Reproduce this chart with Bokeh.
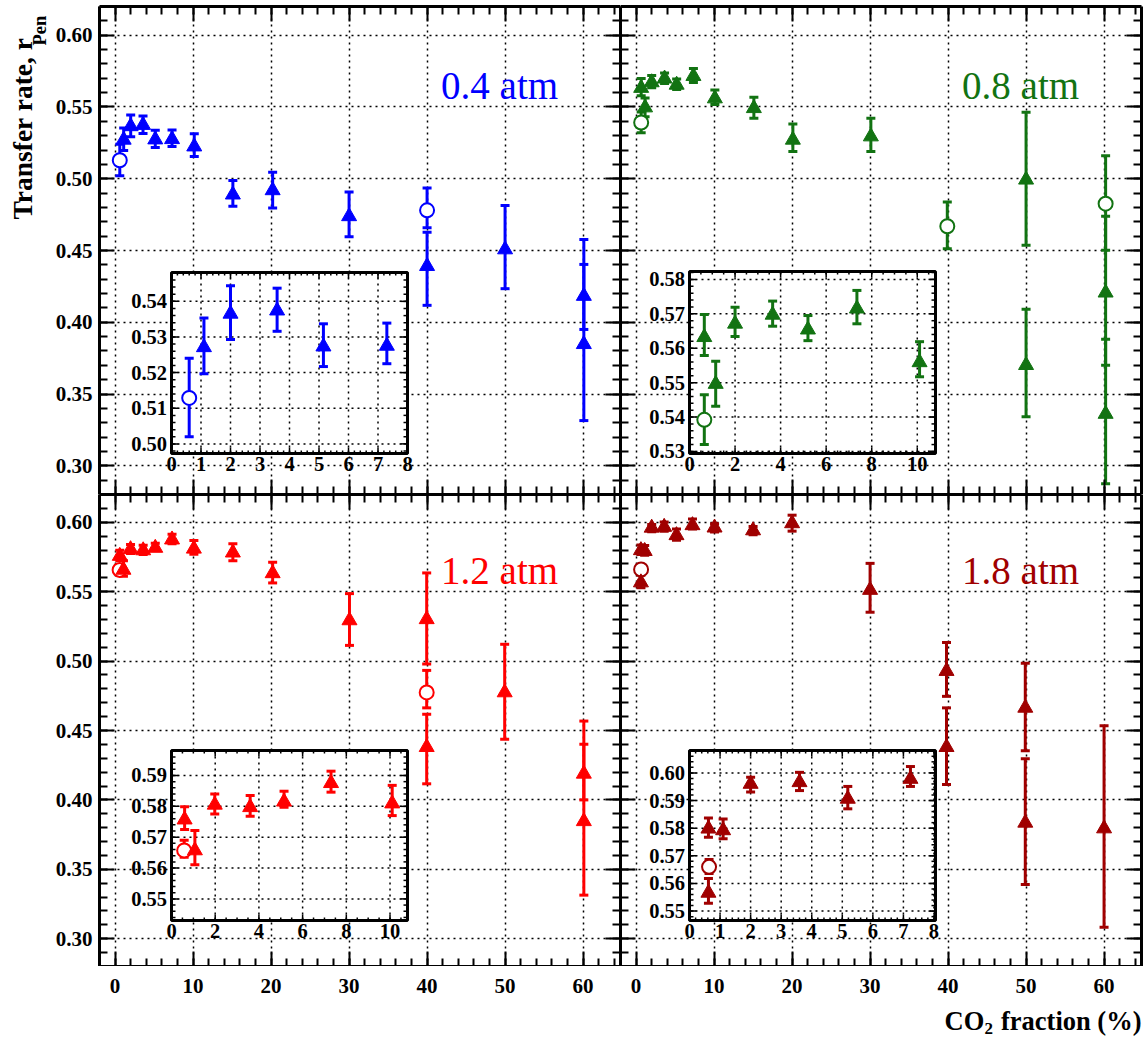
import math
import numpy as np
from bokeh.plotting import figure
from bokeh.layouts import gridplot
from bokeh.models import (Range1d, LinearAxis, SingleIntervalTicker, PrintfTickFormatter,
                          Label, Grid, GlobalInlineStyleSheet)
from bokeh.core.properties import value
from bokeh.embed import file_html
from bokeh.resources import INLINE

# ---------------- data ----------------
# 0.4 atm
p04_tri_x = [1.1, 2.0, 3.58, 5.15, 7.3, 10.15, 15.1, 20.2, 30.0, 40.0, 50.0, 60.1, 60.1]
p04_tri_y = [0.5271, 0.5365, 0.5374, 0.5273, 0.5275, 0.5224, 0.4889, 0.4919, 0.4738, 0.4391, 0.4507, 0.4183, 0.3847]
p04_tri_hi = [0.5353, 0.5444, 0.5437, 0.5337, 0.5339, 0.5313, 0.4988, 0.5046, 0.4907, 0.4627, 0.4813, 0.4576, 0.4403]
p04_tri_lo = [0.5197, 0.5293, 0.5316, 0.5217, 0.5225, 0.5155, 0.4808, 0.4796, 0.4595, 0.4118, 0.4234, 0.3950, 0.3315]
p04_cir_x = [0.6, 40.0]
p04_cir_y = [0.5129, 0.4780]
p04_cir_hi = [0.5240, 0.4935]
p04_cir_lo = [0.5020, 0.4658]

# 0.8 atm
p08_tri_x = [0.65, 1.15, 2.0, 3.65, 5.2, 7.35, 10.1, 15.1, 20.1, 30.1, 50.0, 50.0, 60.2, 60.2]
p08_tri_y = [0.5632, 0.5496, 0.5671, 0.5697, 0.5654, 0.5715, 0.5559, 0.5491, 0.5271, 0.5294, 0.4993, 0.3701, 0.4206, 0.3361]
p08_tri_hi = [0.5698, 0.5562, 0.5719, 0.5737, 0.5695, 0.5768, 0.5619, 0.5567, 0.5382, 0.5421, 0.5463, 0.4090, 0.4738, 0.3882]
p08_tri_lo = [0.5579, 0.5431, 0.5634, 0.5664, 0.5622, 0.5671, 0.5517, 0.5421, 0.5190, 0.5190, 0.4537, 0.3342, 0.3701, 0.2875]
p08_cir_x = [0.65, 39.9, 60.2]
p08_cir_y = [0.5392, 0.4669, 0.4826]
p08_cir_hi = [0.5465, 0.4838, 0.5160]
p08_cir_lo = [0.5320, 0.4512, 0.4502]

# 1.2 atm
p12_tri_x = [0.6, 1.07, 1.98, 3.6, 5.15, 7.3, 10.1, 15.1, 20.2, 30.05, 39.95, 39.95, 49.95, 60.1, 60.1]
p12_tri_y = [0.5757, 0.5657, 0.5805, 0.5797, 0.5815, 0.5875, 0.5809, 0.5781, 0.5632, 0.5293, 0.5301, 0.4380, 0.4774, 0.4188, 0.3846]
p12_tri_hi = [0.5799, 0.5722, 0.5840, 0.5835, 0.5849, 0.5914, 0.5868, 0.5846, 0.5712, 0.5486, 0.5635, 0.4617, 0.5121, 0.4568, 0.4401]
p12_tri_lo = [0.5725, 0.5611, 0.5775, 0.5768, 0.5797, 0.5846, 0.5770, 0.5722, 0.5563, 0.5113, 0.4979, 0.4116, 0.4437, 0.4000, 0.3314]
p12_cir_x = [0.58, 39.95]
p12_cir_y = [0.5657, 0.4774]
p12_cir_hi = [0.5690, 0.4933]
p12_cir_lo = [0.5635, 0.4663]

# 1.8 atm
p18_tri_x = [0.62, 0.62, 1.1, 2.0, 3.6, 5.18, 7.23, 10.06, 15.0, 20.0, 30.0, 39.8, 39.8, 49.9, 49.9, 60.0]
p18_tri_y = [0.5798, 0.5566, 0.5792, 0.5960, 0.5966, 0.5906, 0.5978, 0.5961, 0.5941, 0.5992, 0.5512, 0.4928, 0.4380, 0.4663, 0.3835, 0.3794]
p18_tri_hi = [0.5837, 0.5618, 0.5833, 0.5984, 0.6002, 0.5951, 0.6023, 0.5990, 0.5970, 0.6051, 0.5704, 0.5134, 0.4663, 0.4985, 0.4296, 0.4535]
p18_tri_lo = [0.5767, 0.5528, 0.5762, 0.5931, 0.5936, 0.5870, 0.5951, 0.5930, 0.5910, 0.5936, 0.5352, 0.4746, 0.4111, 0.4355, 0.3391, 0.3082]
p18_cir_x = [0.64]
p18_cir_y = [0.566]
p18_cir_hi = [0.5687]
p18_cir_lo = [0.5636]

panel_labels = ["0.4 atm", "0.8 atm", "1.2 atm", "1.8 atm"]
panel_colors = ["#0000ff", "#127312", "#ff0000", "#a00000"]

# main x tick labels (bottom row)
main_xticks = [0, 10, 20, 30, 40, 50, 60]

# inset tick values
ins04_xticks = [0, 1, 2, 3, 4, 5, 6, 7, 8]
ins04_yticks = [0.50, 0.51, 0.52, 0.53, 0.54]
ins08_xticks = [0, 2, 4, 6, 8, 10]
ins08_yticks = [0.53, 0.54, 0.55, 0.56, 0.57, 0.58]
ins12_xticks = [0, 2, 4, 6, 8, 10]
ins12_yticks = [0.55, 0.56, 0.57, 0.58, 0.59]
ins18_xticks = [0, 1, 2, 3, 4, 5, 6, 7, 8]
ins18_yticks = [0.55, 0.56, 0.57, 0.58, 0.59, 0.60]

y_title = "Transfer rate, r"
y_title_sub = "Pen"
x_title_a = "CO"
x_title_sub = "2"
x_title_b = "fraction (%)"

# ---------------- layout / style ----------------
FONT = "Liberation Serif"
PAGE_H = 1039
main_xr = (-2.0, 64.8)
main_yr = (0.28, 0.62)
# frame (left, top, width, height) in page px, and borders (left, right, top, bottom)
main_frames = [(99, 6, 521, 488), (620, 6, 521, 488), (99, 494, 521, 472), (620, 494, 521, 472)]
YT_W = 50
main_borders = [(99 - YT_W, 0, 6, 0), (0, 7, 6, 0), (99 - YT_W, 0, 0, 0), (0, 7, 0, 0)]

inset_frames = [(171, 272, 236, 181), (689, 271, 246, 182), (171, 750, 236, 170), (689, 750, 246, 170)]
inset_xr = [(0.0, 8.0), (0.0, 10.8), (0.0, 10.8), (0.0, 8.05)]
inset_yr = [(0.4973, 0.5481), (0.5294, 0.5823), (0.5430, 0.5981), (0.5466, 0.6081)]
inset_xticks = [ins04_xticks, ins08_xticks, ins12_xticks, ins18_xticks]
inset_yticks = [ins04_yticks, ins08_yticks, ins12_yticks, ins18_yticks]
inset_xminor = [0.2, 0.5, 0.5, 0.2]
inset_yminor = 0.002


def base_fig(xr, yr, fw, fh, bl, br, bt, bb):
    p = figure(x_range=Range1d(*xr), y_range=Range1d(*yr),
               frame_width=fw, frame_height=fh,
               min_border_left=bl, min_border_right=br,
               min_border_top=bt, min_border_bottom=bb,
               x_axis_type=None, y_axis_type=None,
               toolbar_location=None, output_backend="svg", title=None)
    p.border_fill_color = "white"
    p.background_fill_color = "white"
    p.outline_line_color = None
    return p


def add_axes(p, show_left):
    for loc in ("left", "right", "above", "below"):
        vertical = loc in ("left", "right")
        tick = SingleIntervalTicker(interval=0.05 if vertical else 10, num_minor_ticks=5)
        fmt = PrintfTickFormatter(format="%.2f" if vertical else "%d")
        ax = LinearAxis(ticker=tick, formatter=fmt)
        ax.axis_line_width = 3
        ax.axis_line_color = "black"
        ax.major_tick_in = 15
        ax.major_tick_out = 0
        ax.minor_tick_in = 8
        ax.minor_tick_out = 0
        ax.major_tick_line_width = 2
        ax.minor_tick_line_width = 2
        if loc == "left" and show_left:
            ax.major_label_text_font = FONT
            ax.major_label_text_font_style = "bold"
            ax.major_label_text_font_size = "21px"
            ax.major_label_text_color = "black"
            ax.major_label_standoff = 7
        else:
            ax.major_label_text_font_size = "0px"
            ax.major_label_text_color = None
            ax.major_label_standoff = 0
        p.add_layout(ax, loc)
    for dim, iv in ((0, 10), (1, 0.05)):
        p.add_layout(Grid(dimension=dim, ticker=SingleIntervalTicker(interval=iv),
                          grid_line_color="black", grid_line_dash="2 4", grid_line_width=1.5))


def draw_data(g, color, tx, ty, thi, tlo, cx, cy, chi, clo):
    for xs, hi, lo in ((tx, thi, tlo), (cx, chi, clo)):
        if len(xs) == 0:
            continue
        g.segment(x0=xs, y0=lo, x1=xs, y1=hi, line_color=color, line_width=3)
        g.scatter(x=list(xs) + list(xs), y=list(hi) + list(lo), marker="dash",
                  size=9, line_color=color, line_width=3)
    if len(cx):
        g.scatter(x=cx, y=cy, marker="circle", size=14, line_color=color,
                  line_width=2, fill_color="white")
    if len(tx):
        g.scatter(x=tx, y=ty, marker="triangle", size=15, line_color=color,
                  fill_color=color)


def px_to_data(frame, px, py):
    fx, fy, fw, fh = frame
    x = main_xr[0] + (px - fx) / fw * (main_xr[1] - main_xr[0])
    y = main_yr[0] + (fy + fh - py) / fh * (main_yr[1] - main_yr[0])
    return x, y


def draw_inset(p, mframe, iframe, xr, yr, xticks, yticks, xminor, color, data):
    fx, fy, fw, fh = iframe
    x0, y1 = px_to_data(mframe, fx, fy)
    x1, y0 = px_to_data(mframe, fx + fw, fy + fh)
    sub = p.subplot(x_source=Range1d(*xr), y_source=Range1d(*yr),
                    x_target=Range1d(x0, x1), y_target=Range1d(y0, y1))
    ux = (xr[1] - xr[0]) / fw
    uy = (yr[1] - yr[0]) / fh
    sub.quad(left=[xr[0]], right=[xr[1]], bottom=[yr[0]], top=[yr[1]],
             fill_color="white", line_color=None)
    gx = [t for t in xticks if xr[0] + 1e-9 < t < xr[1] - 1e-9]
    gy = [t for t in yticks if yr[0] < t < yr[1]]
    sub.segment(x0=gx, y0=[yr[0]] * len(gx), x1=gx, y1=[yr[1]] * len(gx),
                line_color="black", line_dash="2 4", line_width=1.5)
    sub.segment(x0=[xr[0]] * len(gy), y0=gy, x1=[xr[1]] * len(gy), y1=gy,
                line_color="black", line_dash="2 4", line_width=1.5)
    mx = [v for v in np.arange(0.0, xr[1] + 1e-9, xminor) if v >= xr[0]]
    my = [v for v in np.arange(round(yr[0], 2) - 0.01, yr[1], inset_yminor) if yr[0] <= v <= yr[1]]
    for pos, L in ((list(yticks), 7), (my, 4)):
        n = len(pos)
        sub.segment(x0=[xr[0]] * n, y0=pos, x1=[xr[0] + L * ux] * n, y1=pos,
                    line_color="black", line_width=1.5)
        sub.segment(x0=[xr[1] - L * ux] * n, y0=pos, x1=[xr[1]] * n, y1=pos,
                    line_color="black", line_width=1.5)
    for pos, L in ((list(xticks), 6), (mx, 3)):
        n = len(pos)
        sub.segment(x0=pos, y0=[yr[0]] * n, x1=pos, y1=[yr[0] + L * uy] * n,
                    line_color="black", line_width=1.5)
        sub.segment(x0=pos, y0=[yr[1] - L * uy] * n, x1=pos, y1=[yr[1]] * n,
                    line_color="black", line_width=1.5)
    tx, ty, thi, tlo, cx, cy, chi, clo = data
    ti = [k for k, v in enumerate(tx) if xr[0] <= v <= xr[1]]
    ci = [k for k, v in enumerate(cx) if xr[0] <= v <= xr[1]]
    draw_data(sub, color,
              [tx[k] for k in ti], [ty[k] for k in ti], [thi[k] for k in ti], [tlo[k] for k in ti],
              [cx[k] for k in ci], [cy[k] for k in ci], [chi[k] for k in ci], [clo[k] for k in ci])
    sub.quad(left=[xr[0]], right=[xr[1]], bottom=[yr[0]], top=[yr[1]],
             fill_color=None, line_color="black", line_width=3)
    sub.text(x=[xr[0]] * len(yticks), y=list(yticks), text=["%.2f" % v for v in yticks],
             x_offset=-4.5, text_align="right", text_baseline="middle",
             text_font=value(FONT), text_font_style="bold", text_font_size=value("20.5px"),
             text_color="black")
    sub.text(x=list(xticks), y=[yr[0]] * len(xticks), text=["%d" % v for v in xticks],
             y_offset=3, text_align="center", text_baseline="top",
             text_font=value(FONT), text_font_style="bold", text_font_size=value("20.5px"),
             text_color="black")


datasets = [
    (p04_tri_x, p04_tri_y, p04_tri_hi, p04_tri_lo, p04_cir_x, p04_cir_y, p04_cir_hi, p04_cir_lo),
    (p08_tri_x, p08_tri_y, p08_tri_hi, p08_tri_lo, p08_cir_x, p08_cir_y, p08_cir_hi, p08_cir_lo),
    (p12_tri_x, p12_tri_y, p12_tri_hi, p12_tri_lo, p12_cir_x, p12_cir_y, p12_cir_hi, p12_cir_lo),
    (p18_tri_x, p18_tri_y, p18_tri_hi, p18_tri_lo, p18_cir_x, p18_cir_y, p18_cir_hi, p18_cir_lo),
]

figs = []
for i in range(4):
    fx, fy, fw, fh = main_frames[i]
    p = base_fig(main_xr, main_yr, fw, fh, *main_borders[i])
    add_axes(p, show_left=(i % 2 == 0))
    draw_data(p, panel_colors[i], *datasets[i])
    p.add_layout(Label(x=56.8, y=0.5653, text=panel_labels[i], text_align="right",
                       text_baseline="alphabetic", text_font=FONT,
                       text_font_size="39px", text_color=panel_colors[i]))
    draw_inset(p, main_frames[i], inset_frames[i], inset_xr[i], inset_yr[i],
               inset_xticks[i], inset_yticks[i], inset_xminor[i], panel_colors[i], datasets[i])
    figs.append(p)
tl, tr, bl, br = figs

bold_text = dict(text_font=value(FONT), text_font_style="bold", text_color="black",
                 text_baseline="middle")

# y-axis title column (page x 0..YT_W, y 0..494); y measured upward from page y 494
ytf = base_fig((0, YT_W), (0, 494), YT_W, 494, 0, 0, 0, 0)
ytf.text(x=[21.5], y=[494 - 213], text=[y_title], angle=math.pi / 2, text_align="left",
         text_font_size=value("27.5px"), **bold_text)
ytf.text(x=[39.5], y=[494 - 39], text=[y_title_sub], angle=math.pi / 2, text_align="left",
         text_font_size=value("18.5px"), **bold_text)

# bottom row: x tick labels and x-axis title, sharing the main x scale
ROW_TOP = 966
ROW_H = PAGE_H - ROW_TOP
xl = base_fig(main_xr, (0, ROW_H), 521, ROW_H, 99 - YT_W, 0, 0, 0)
xr_ = base_fig(main_xr, (0, ROW_H), 521, ROW_H, 0, 7, 0, 0)
for f in (xl, xr_):
    f.text(x=main_xticks, y=[PAGE_H - 985] * len(main_xticks),
           text=["%d" % v for v in main_xticks], text_align="center",
           text_font_size=value("21px"), **bold_text)

fr = main_frames[3]
xr_.text(x=[px_to_data(fr, 944, 0)[0]], y=[PAGE_H - 1020], text=[x_title_a], text_align="left",
         text_font_size=value("26.5px"), **bold_text)
xr_.text(x=[px_to_data(fr, 984, 0)[0]], y=[PAGE_H - 1028], text=[x_title_sub], text_align="left",
         text_font_size=value("17px"), **bold_text)
xr_.text(x=[px_to_data(fr, 1141, 0)[0]], y=[PAGE_H - 1020], text=[x_title_b], text_align="right",
         text_font_size=value("26.5px"), **bold_text)

grid = gridplot([[ytf, tl, tr], [None, bl, br], [None, xl, xr_]], toolbar_location=None)
grid.stylesheets = [GlobalInlineStyleSheet(css="html, body { overflow: hidden; }")]

open("out.html", "w").write(file_html(grid, INLINE))
